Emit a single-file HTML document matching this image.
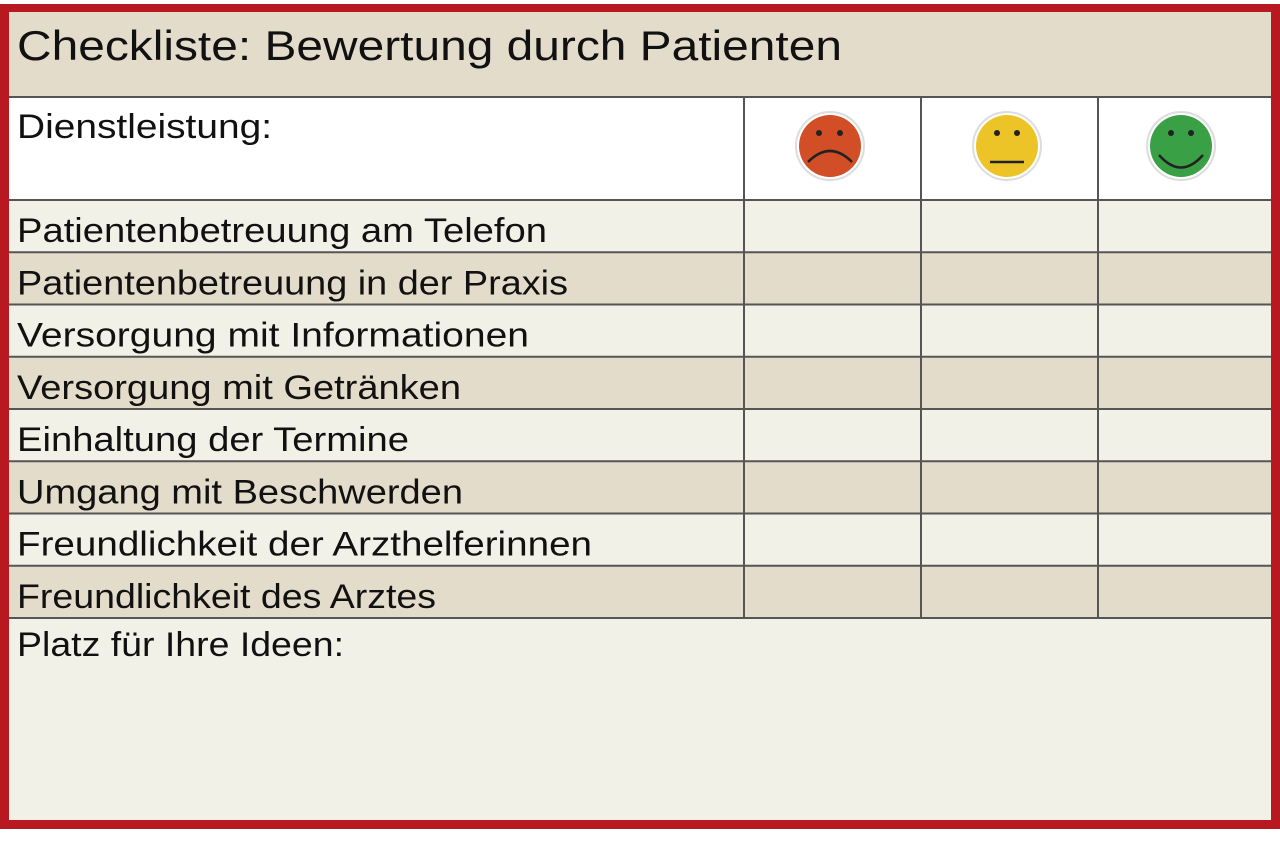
<!DOCTYPE html>
<html><head><meta charset="utf-8"><style>
html,body{margin:0;padding:0;background:#fff;width:1280px;height:849px;overflow:hidden}
svg{display:block}
text{font-family:"Liberation Sans",sans-serif;fill:#111}
</style></head><body>
<svg width="1280" height="849" viewBox="0 0 1280 849">
<rect x="0" y="4" width="1280" height="825" fill="#b8181f"/>
<rect x="9" y="12" width="1262" height="808" fill="#f2f1e8"/>
<rect x="9" y="12" width="1262" height="85" fill="#e3dccb"/>
<text x="17" y="60" font-size="42" textLength="825" lengthAdjust="spacingAndGlyphs">Checkliste: Bewertung durch Patienten</text>
<rect x="9" y="97" width="1262" height="103" fill="#fff"/>
<text x="17" y="138" font-size="34" textLength="255" lengthAdjust="spacingAndGlyphs">Dienstleistung:</text>
<g id="rows"></g>
<g id="lines" stroke="#555" stroke-width="2"></g>
<g>
<circle cx="830" cy="146" r="34" fill="#fff" stroke="#ddd" stroke-width="2"/>
<circle cx="830" cy="146" r="31" fill="#d14e26"/>
<circle cx="819" cy="133" r="3" fill="#222"/><circle cx="840" cy="133" r="3" fill="#222"/>
<path d="M808 162 Q830 140 852 162" fill="none" stroke="#222" stroke-width="2.5"/>
</g>
<g>
<circle cx="1007" cy="146" r="34" fill="#fff" stroke="#ddd" stroke-width="2"/>
<circle cx="1007" cy="146" r="31" fill="#ecc428"/>
<circle cx="997" cy="133" r="3" fill="#222"/><circle cx="1017" cy="133" r="3" fill="#222"/>
<line x1="990" y1="162" x2="1024" y2="162" stroke="#222" stroke-width="2.5"/>
</g>
<g>
<circle cx="1181" cy="146" r="34" fill="#fff" stroke="#ddd" stroke-width="2"/>
<circle cx="1181" cy="146" r="31" fill="#3aa046"/>
<circle cx="1171" cy="133" r="3" fill="#222"/><circle cx="1191" cy="133" r="3" fill="#222"/>
<path d="M1159 155 Q1181 180 1203 155" fill="none" stroke="#222" stroke-width="2.5"/>
</g>
<text x="17" y="656" font-size="34" textLength="327" lengthAdjust="spacingAndGlyphs">Platz für Ihre Ideen:</text>
</svg>
<script>
const labels=["Patientenbetreuung am Telefon","Patientenbetreuung in der Praxis","Versorgung mit Informationen","Versorgung mit Getränken","Einhaltung der Termine","Umgang mit Beschwerden","Freundlichkeit der Arzthelferinnen","Freundlichkeit des Arztes"];
const widths=[530,551,512,444,392,446,575,419];
const NS="http://www.w3.org/2000/svg";
const rows=document.getElementById('rows'),lines=document.getElementById('lines');
const top0=200,rh=52.25;
labels.forEach((l,i)=>{
 const y=top0+i*rh;
 const r=document.createElementNS(NS,'rect');
 r.setAttribute('x',9);r.setAttribute('y',y);r.setAttribute('width',1262);r.setAttribute('height',rh);
 r.setAttribute('fill',i%2?'#e3dccb':'#f2f1e8');
 
 
 rows.appendChild(r);
 const t=document.createElementNS(NS,'text');
 t.setAttribute('x',17);t.setAttribute('y',y+42);t.setAttribute('font-size',34);
 t.setAttribute('textLength',widths[i]);t.setAttribute('lengthAdjust','spacingAndGlyphs');
 t.textContent=l;
 
 
 rows.appendChild(t);
 [744,921,1098].forEach(cx=>{
  const c=document.createElementNS(NS,'rect');
  c.setAttribute('x',cx+2);c.setAttribute('y',y+2);c.setAttribute('width',172);c.setAttribute('height',rh-4);c.setAttribute('fill','transparent');
  
  
  rows.appendChild(c);
 });
});
function ln(x1,y1,x2,y2){const e=document.createElementNS(NS,'line');e.setAttribute('x1',x1);e.setAttribute('y1',y1);e.setAttribute('x2',x2);e.setAttribute('y2',y2);
 
 
 lines.appendChild(e);}
ln(9,97,1271,97);
for(let i=0;i<=8;i++){const y=top0+i*rh;ln(9,y,1271,y);}
[744,921,1098].forEach(x=>ln(x,97,x,618));
</script>
</body></html>
